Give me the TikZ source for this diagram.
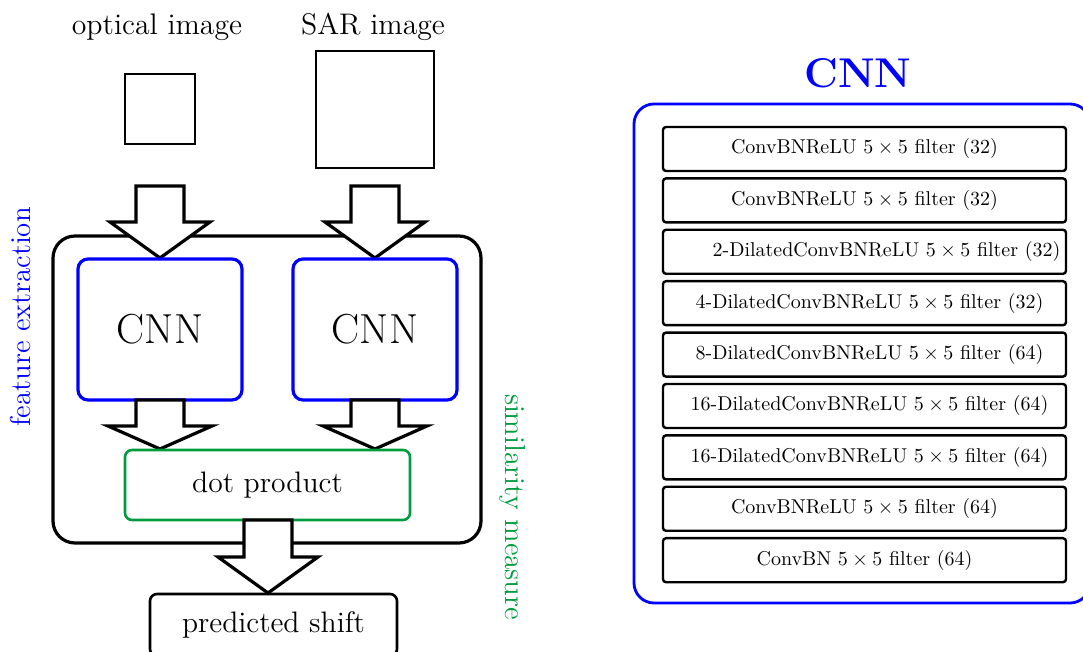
\documentclass[tikz,border=0pt]{standalone}
\usepackage{amsmath}
\definecolor{simgreen}{RGB}{0,155,60}
\newcommand{\blockarr}[6]{% cx, shafttop, headstart, tip, halfshaft, halfhead
  \draw[blockline] (#1-#5,#2) -- (#1+#5,#2) -- (#1+#5,#3) -- (#1+#6,#3) -- (#1,#4) -- (#1-#6,#3) -- (#1-#5,#3) -- cycle;}
\begin{document}
\begin{tikzpicture}[x=0.5pt,y=-0.5pt,
  blockline/.style={draw=black, line width=1.6pt, fill=white, line join=miter},
  outerbox/.style={draw=black, line width=1.6pt, rounded corners=11pt, minimum width=214pt, minimum height=153.5pt},
  cnnbox/.style={draw=blue, line width=1.6pt, rounded corners=5pt, fill=white, minimum width=82pt, minimum height=70.5pt, font=\fontsize{21}{25}\selectfont},
  dotbox/.style={draw=simgreen, line width=1.3pt, rounded corners=3.5pt, fill=white, minimum width=142.5pt, minimum height=35pt, font=\fontsize{14.8}{18}\selectfont},
  outbox/.style={draw=black, line width=1.3pt, rounded corners=3.5pt, fill=white, minimum width=123.5pt, minimum height=31pt, font=\fontsize{14.8}{18}\selectfont},
  imgbox/.style={draw=black, line width=1.45pt, inner sep=0pt},
  toplabel/.style={font=\fontsize{14.9}{18}\selectfont, anchor=base},
  sidelabel/.style={font=\Large},
  netbox/.style={draw=blue, line width=1.4pt, rounded corners=10pt, minimum width=228pt, minimum height=249.5pt},
  layerbox/.style={draw=black, line width=1.2pt, rounded corners=1.5pt, minimum width=201.5pt, minimum height=22pt},
  layertext/.style={font=\normalsize, inner sep=0pt}
]
\useasboundingbox (0,0) rectangle (1083,652);
\clip (0,0) rectangle (1083,652);

% ---------- left diagram ----------
\node[toplabel] (optlbl) at (157,35) {optical image};
\node[toplabel] (sarlbl) at (373,35) {SAR image};
\node[imgbox, minimum width=35pt, minimum height=35pt] (opt) at (160,109) {};
\node[imgbox, minimum width=59pt, minimum height=58.5pt] (sar) at (375,109.5) {};

\node[outerbox] (outer) at (267,389.5) {};

\blockarr{160}{186}{222}{258}{24}{50}
\blockarr{375}{186}{222}{258}{24}{50}

\node[cnnbox] (cnnL) at (160,329.5) {CNN};
\node[cnnbox] (cnnR) at (375,329.5) {CNN};

\blockarr{160}{400}{426}{449}{24}{52}
\blockarr{375}{400}{426}{449}{24}{52}

\node[dotbox] (dot) at (267.5,485) {dot product};

\blockarr{268}{520}{557}{593}{24}{50}

\node[outbox] (shift) at (273.5,625) {predicted shift};

\node[sidelabel, text=blue, rotate=90] (feat) at (21,317) {feature extraction};
\node[sidelabel, text=simgreen, rotate=-90] (sim) at (513,507) {similarity measure};

% ---------- right diagram ----------
\node[font=\fontsize{20.8}{25}\selectfont\bfseries, text=blue] (title) at (858,73) {CNN};
\node[netbox] (net) at (862,353.5) {};

\node[layerbox] (l1) at (864.5,149) {};
\node[layerbox] (l2) at (864.5,200.4) {};
\node[layerbox] (l3) at (864.5,251.8) {};
\node[layerbox] (l4) at (864.5,303.2) {};
\node[layerbox] (l5) at (864.5,354.6) {};
\node[layerbox] (l6) at (864.5,406) {};
\node[layerbox] (l7) at (864.5,457.4) {};
\node[layerbox] (l8) at (864.5,508.8) {};
\node[layerbox] (l9) at (864.5,560.2) {};

\node[layertext] (t1) at (l1.center) {ConvBNReLU $5\times5$ filter (32)};
\node[layertext] (t2) at (l2.center) {ConvBNReLU $5\times5$ filter (32)};
\node[layertext] (t3) at ([xshift=11pt]l3.center) {2-DilatedConvBNReLU $5\times5$ filter (32)};
\node[layertext] (t4) at ([xshift=2.5pt]l4.center) {4-DilatedConvBNReLU $5\times5$ filter (32)};
\node[layertext] (t5) at ([xshift=2.5pt]l5.center) {8-DilatedConvBNReLU $5\times5$ filter (64)};
\node[layertext] (t6) at ([xshift=2.5pt]l6.center) {16-DilatedConvBNReLU $5\times5$ filter (64)};
\node[layertext] (t7) at ([xshift=2.5pt]l7.center) {16-DilatedConvBNReLU $5\times5$ filter (64)};
\node[layertext] (t8) at (l8.center) {ConvBNReLU $5\times5$ filter (64)};
\node[layertext] (t9) at (l9.center) {ConvBN $5\times5$ filter (64)};
\end{tikzpicture}
\end{document}
